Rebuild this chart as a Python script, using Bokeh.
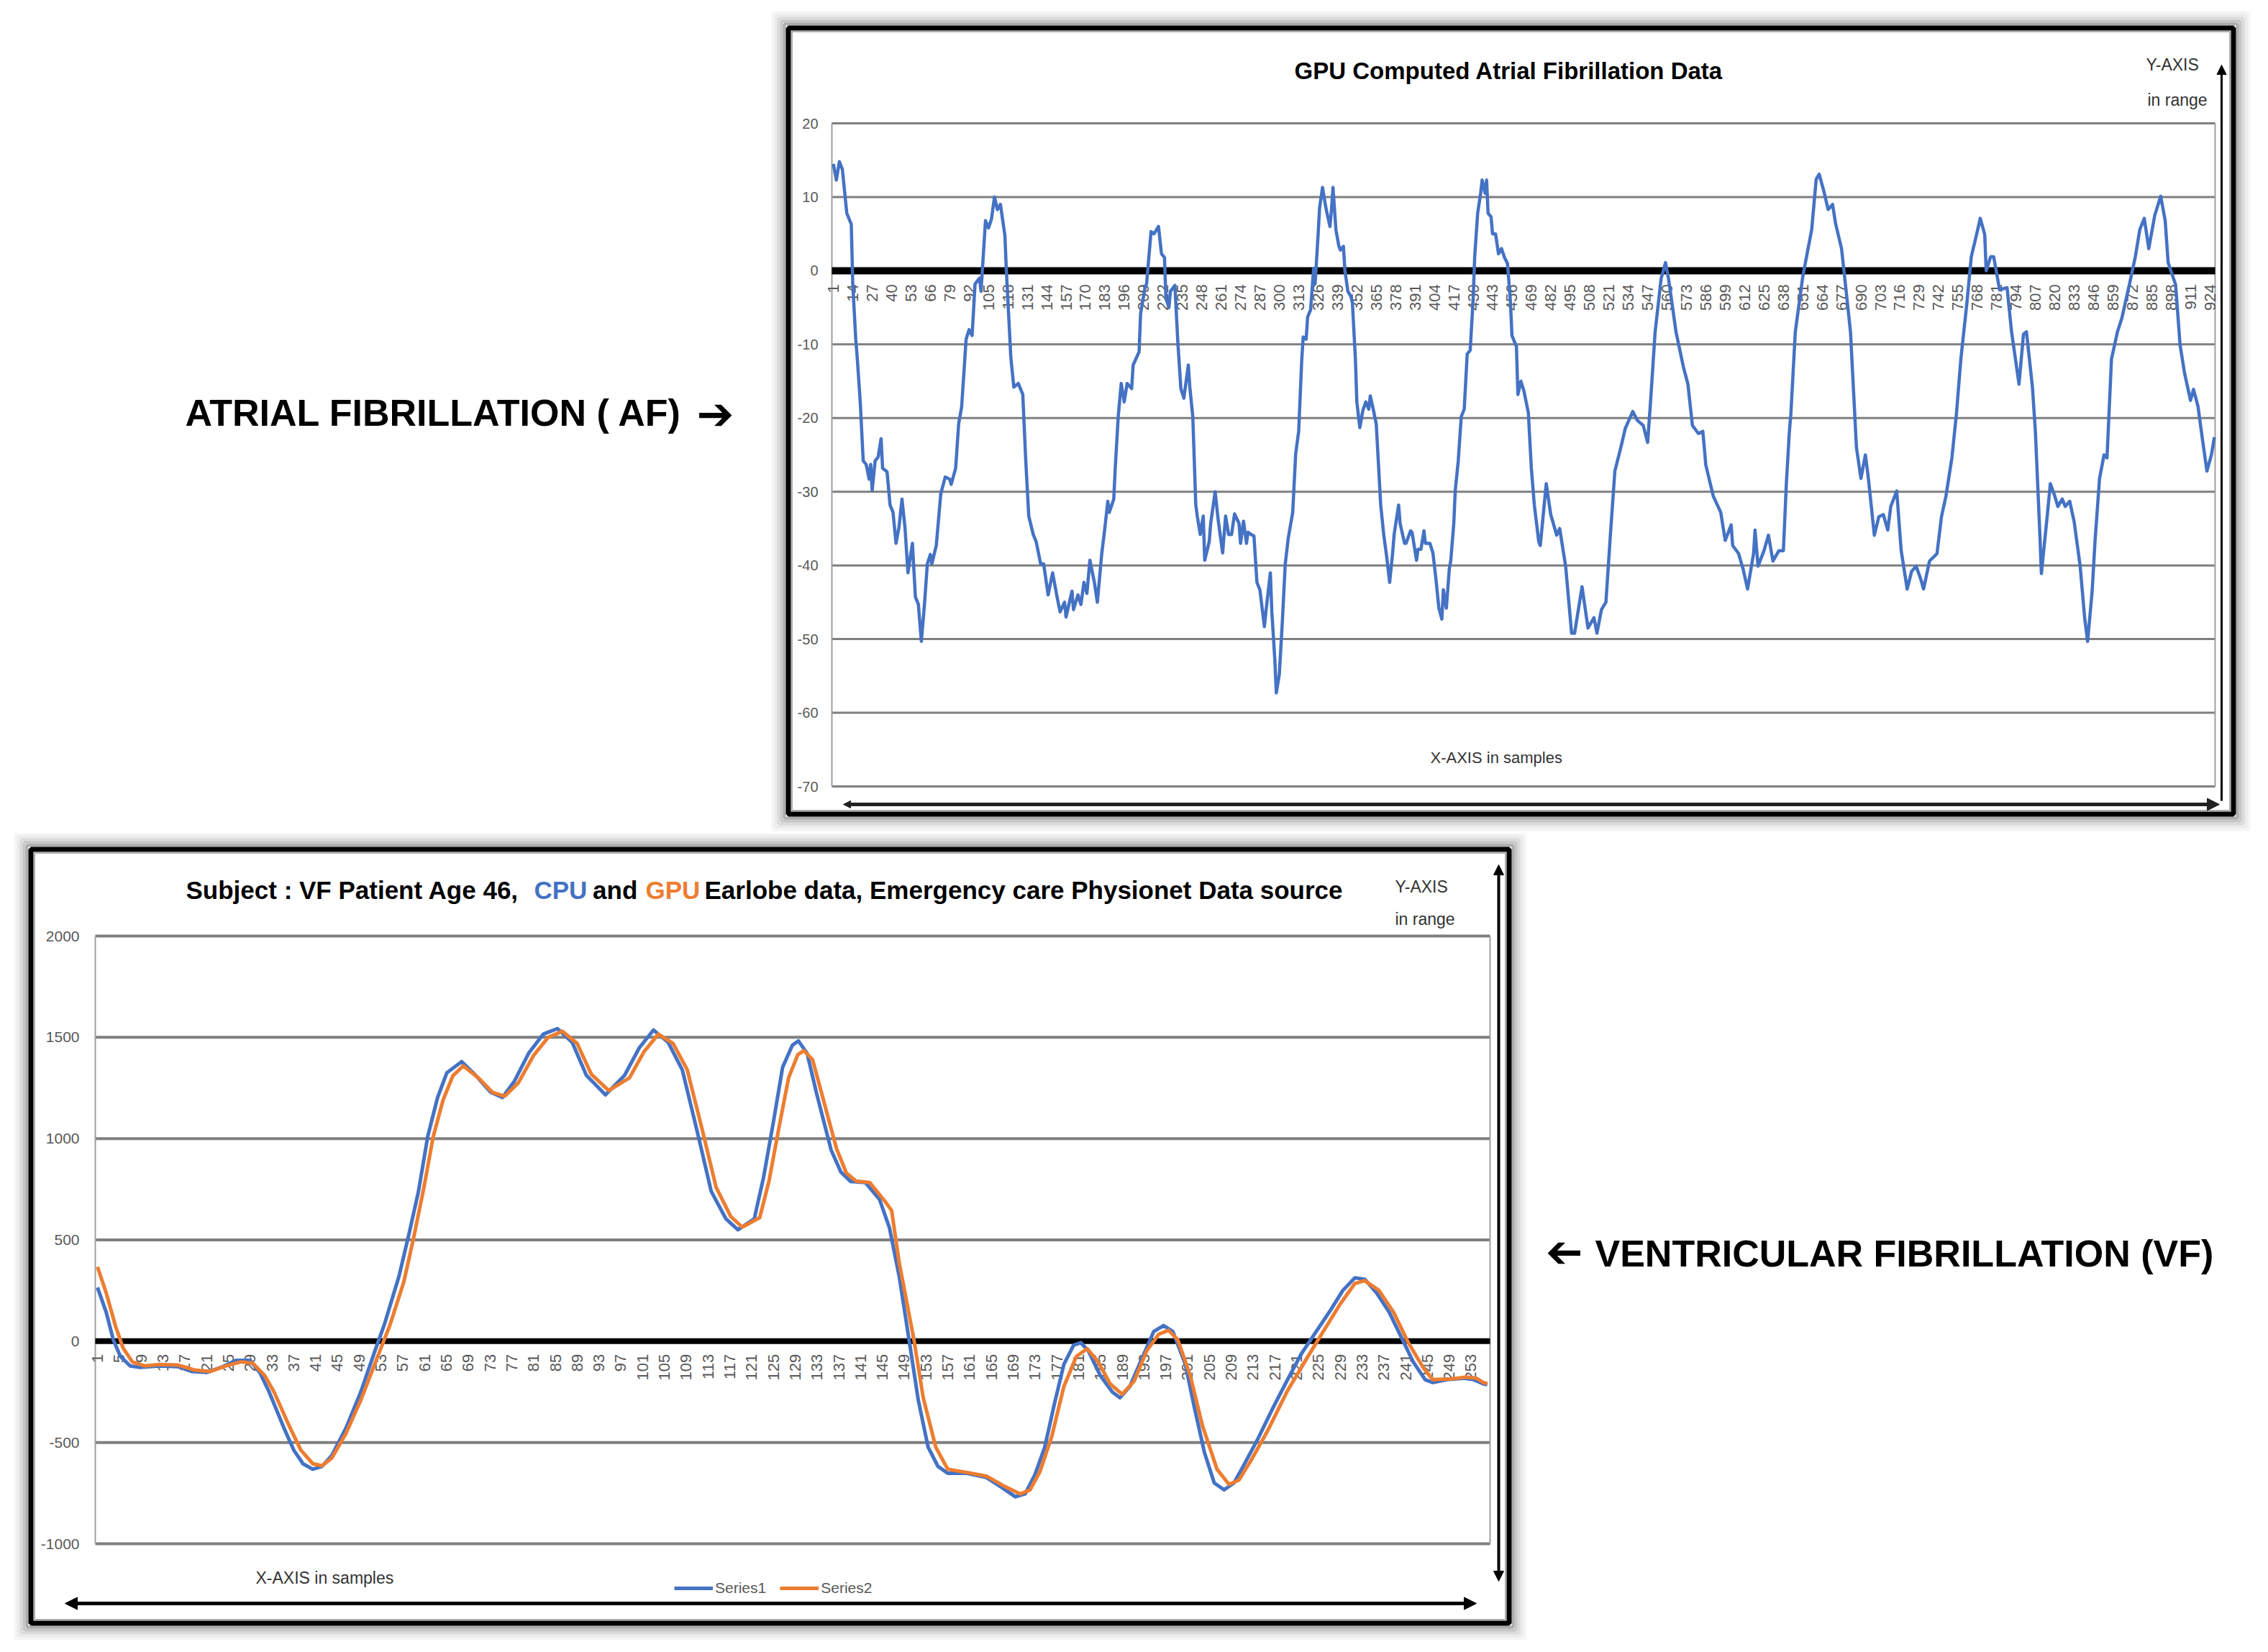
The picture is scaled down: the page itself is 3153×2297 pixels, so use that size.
import math
from bokeh.plotting import figure
from bokeh.layouts import column, row
from bokeh.models import (Range1d, Label, Arrow, NormalHead, BoxAnnotation,
                          Legend, LegendItem, ColumnDataSource)
from bokeh.core.properties import value
from bokeh.embed import file_html
from bokeh.resources import INLINE

# ---------------- data ----------------
AF_POINTS = [
    (1,14.5),(3,12.3),(5,14.8),(7,13.8),(10,7.8),(13,6.3),(14,-1.8),(16,-9.3),(17,-11.8),(19,-17.8),
    (21,-25.8),(23,-26.3),(25,-28.3),(26,-26.3),(27,-29.8),(29,-25.8),(31,-25.3),(33,-22.8),(34,-26.8),
    (37,-27.3),(39,-31.8),(41,-32.8),(43,-37),(45,-34.8),(47,-31),(49,-34.8),(51,-41),(54,-37),(56,-44.3),
    (58,-45.3),(60,-50.3),(62,-45.5),(64,-39.8),(66,-38.5),(67,-39.8),(70,-37.3),(73,-30.3),(76,-28),
    (79,-28.3),(80,-29),(83,-26.8),(85,-20.8),(87,-18.5),(90,-9.3),(92,-8),(94,-8.8),(96,-1.8),(99,-1),
    (100,-2.8),(103,6.8),(105,5.8),(107,7),(109,10),(111,8.3),(113,9),(116,4.8),(117,0),(120,-11.8),
    (122,-15.8),(125,-15.3),(128,-16.8),(130,-25.8),(132,-33.3),(135,-35.8),(137,-36.8),(140,-39.8),
    (142,-39.8),(145,-44),(148,-41),(151,-44.3),(153,-46.3),(156,-45),(157,-47),(161,-43.5),(162,-46),
    (165,-44),(167,-45.3),(169,-42.3),(171,-43.8),(173,-39.3),(176,-42.3),(178,-45),(181,-38.3),(183,-35),
    (185,-31.3),(186,-32.8),(189,-31),(190,-26.8),(192,-19.8),(194,-15.3),(196,-17.8),(198,-15.3),
    (201,-16),(202,-12.8),(206,-11),(207,-5.8),(210,-2.3),(211,-1.8),(214,5.3),(216,5),(219,6),(221,2.3),
    (223,1.8),(224,-3.8),(226,-5),(227,-2.8),(230,-2),(232,-9.8),(234,-16),(236,-17.3),(239,-12.8),
    (240,-15.8),(242,-19.8),(244,-31.8),(245,-33.3),(247,-35.8),(249,-33.3),(250,-39.3),(253,-36.8),
    (254,-34.3),(257,-30),(259,-33.8),(262,-38.3),(264,-33.3),(266,-35.8),(268,-35.8),(270,-33),
    (273,-34.3),(274,-37),(276,-34),(278,-37),(279,-35.5),(281,-35.8),(283,-36),(285,-42.3),(287,-43.3),
    (290,-48.3),(291,-46.3),(294,-41),(295,-46.3),(297,-52.8),(298,-57.3),(300,-54.8),(302,-47.8),
    (304,-39.8),(306,-36.3),(309,-32.8),(311,-24.8),(313,-21.8),(315,-12.3),(316,-9),(318,-9.3),
    (319,-6.3),(321,-5.3),(323,0.3),(324,-1.8),(326,4.8),(327,8.5),(329,11.3),(331,8.8),(332,7.8),
    (334,6),(335,8.3),(336,11.3),(338,5.5),(340,3.3),(341,2.8),(343,3.3),(344,0),(346,-2.8),(348,-3.5),
    (349,-4.3),(351,-11.8),(352,-17.8),(354,-21.3),(356,-19),(358,-17.8),(360,-18.8),(361,-17),
    (363,-18.8),(365,-20.8),(368,-31.8),(370,-35.8),(372,-38.8),(374,-42.3),(376,-38.3),(377,-35.8),
    (380,-31.8),(381,-34.3),(384,-37),(385,-37),(388,-35.3),(389,-35.5),(392,-39.3),(393,-37.8),
    (395,-37.8),(397,-35.3),(398,-37),(401,-37),(403,-38.3),(405,-41.8),(407,-45.8),(409,-47.3),
    (410,-43.3),(412,-45.8),(414,-40.5),(415,-39.3),(417,-34.3),(418,-29.8),(420,-25.8),(422,-19.8),
    (424,-18.8),(426,-11.3),(428,-10.8),(430,-3.8),(431,1.8),(433,7.8),(435,10.5),(436,12.3),(438,10.5),
    (439,12.3),(440,7.8),(442,7.3),(443,5),(445,5),(447,2.3),(449,3),(451,1.8),(453,1),(455,-4.3),
    (456,-8.8),(459,-10.3),(460,-16.8),(462,-15),(464,-16.3),(467,-19.3),(469,-26.8),(471,-31.8),
    (474,-36.8),(475,-37.3),(479,-28.9),(482,-33.1),(486,-35.9),(488,-35),(492,-40.1),(496,-49.2),
    (498,-49.2),(503,-42.9),(507,-48.5),(511,-47.1),(513,-49.2),(516,-46),(519,-45),(522,-35.9),
    (525,-27.2),(529,-24),(532,-21.4),(537,-19.1),(540,-20.3),(544,-21),(547,-23.3),(549,-17.6),
    (552,-8.3),(556,-1.1),(559,1.1),(561,-1.1),(566,-8.3),(571,-13.1),(574,-15.4),(577,-21),(581,-22.1),
    (584,-21.8),(586,-26.4),(591,-30.6),(596,-32.8),(599,-36.6),(603,-34.5),(604,-37.3),(608,-38.4),
    (611,-40.5),(614,-43.2),(618,-38.4),(619,-35.2),(621,-40.1),(625,-38),(628,-35.9),(631,-39.4),
    (635,-38),(638,-38),(640,-28.9),(642,-21.9),(643,-19.5),(646,-8.3),(651,-0.8),(657,5.6),(660,12.4),
    (662,13.1),(665,10.9),(668,8.3),(671,9),(673,6.4),(677,3),(680,-2.6),(683,-8.3),(687,-24),
    (690,-28.2),(693,-25),(695,-28.2),(699,-35.9),(702,-33.4),(705,-33.1),(708,-35.2),(710,-32),
    (714,-29.9),(717,-38),(721,-43.2),(724,-40.8),(727,-40.1),(730,-41.8),(732,-43.2),(736,-39.4),
    (741,-38.4),(744,-33.4),(747,-30.6),(751,-25.4),(754,-19.5),(757,-12),(761,-4.5),(764,1.9),
    (768,5.3),(770,7.1),(773,4.9),(774,0),(777,1.9),(779,1.9),(783,-2.6),(788,-2.3),(791,-8.3),
    (796,-15.4),(799,-8.6),(801,-8.3),(805,-15.8),(807,-21.9),(810,-35.9),(811,-41.1),(815,-33.1),
    (817,-28.9),(820,-30.6),(822,-32),(825,-31),(827,-32),(830,-31.3),(833,-34.1),(837,-40.1),
    (840,-47.1),(842,-50.3),(845,-43.6),(847,-36.6),(850,-28.2),(853,-25),(855,-25.4),(858,-12),
    (862,-8.3),(865,-6.4),(870,-1.9),(874,1.9),(877,5.6),(880,7.1),(883,3),(887,7.5),(891,10.1),
    (894,6.8),(896,1.1),(901,-1.9),(904,-10.1),(907,-13.9),(911,-17.6),(913,-16.1),(916,-18.4),
    (919,-22.9),(922,-27.2),(925,-25),(927,-22.6),
]
AF_SAMPLE = [p[0] for p in AF_POINTS]
AF_VALUE = [p[1] for p in AF_POINTS]
AF_X_TICKS = list(range(1, 925, 13))
AF_Y_TICKS = [-70, -60, -50, -40, -30, -20, -10, 0, 10, 20]
AF_X_EXTENT = (0, 927.5)

VF_CPU_POINTS = [
    (1,265),(2.6,143),(3.9,7),(5.2,-75),(7,-122),(8.8,-129),(12.3,-122),(15.8,-126),(18.4,-150),
    (21.1,-154),(23.7,-129),(26.4,-95),(29,-95),(30.8,-156),(32.5,-251),(35.2,-428),(37,-537),
    (38.7,-605),(40.5,-632),(42.2,-618),(44,-564),(46.6,-428),(49.3,-251),(51.9,-48),(53.7,88),
    (56.3,319),(58.1,523),(59.9,740),(61.6,1012),(63.4,1203),(65.1,1325),(67.8,1380),(70.4,1312),
    (73.1,1230),(75.3,1203),(77.5,1284),(80.1,1421),(82.8,1516),(85.4,1543),(88.1,1475),(90.7,1312),
    (94.2,1216),(97.7,1312),(100.4,1448),(103,1536),(105.7,1475),(108.3,1339),(111,1039),(113.6,740),
    (116.3,604),(118.5,550),(121.5,604),(123.2,808),(125,1080),(126.7,1352),(128.5,1461),(129.6,1482),
    (131.2,1421),(133,1216),(135.6,944),(137.4,835),(139.2,788),(141.9,783),(144.5,699),(146.3,560),
    (148.1,319),(149.9,7),(151.6,-292),(153.4,-523),(155.2,-618),(157,-652),(160.5,-652),(164.1,-673),
    (166.8,-720),(169.4,-768),(171.2,-754),(173,-659),(174.8,-523),(176.6,-306),(178.3,-115),
    (180.1,-20),(181.4,-7),(182.8,-48),(185,-170),(187.2,-251),(188.6,-279),(190.4,-224),(192.6,-88),
    (194.8,48),(196.6,77),(198.3,48),(200.6,-115),(202.3,-333),(204.1,-550),(205.9,-700),(207.7,-734),
    (209.5,-700),(211.2,-618),(213.9,-482),(216.6,-333),(219.2,-197),(221.9,-61),(224.6,48),
    (227.3,156),(229.5,251),(231.7,313),(233.5,306),(235.7,238),(238,143),(240.2,20),(242.4,-102),
    (244.6,-190),(246,-204),(248.6,-190),(251.7,-183),(253.5,-190),(255.3,-211),(256,-215),
]
VF_GPU_POINTS = [
    (1,367),(2.6,238),(4.3,75),(5.7,-34),(7.4,-102),(9.6,-122),(12.3,-115),(15.8,-118),(18.9,-143),
    (21.6,-150),(24.6,-122),(27.3,-102),(29.5,-109),(31.7,-170),(33.4,-251),(36.1,-414),(38.3,-537),
    (40.5,-605),(42.2,-615),(44,-577),(46.6,-455),(49.3,-292),(52.8,-48),(54.6,75),(57.2,292),
    (59,510),(60.9,760),(62.6,1010),(64.4,1190),(66.2,1310),(68.1,1359),(70.9,1300),(73.5,1228),
    (75.7,1209),(78.2,1275),(81,1410),(83.7,1500),(86.3,1530),(89,1470),(91.6,1318),(94.8,1237),
    (98.6,1300),(101.3,1430),(103.9,1516),(106.6,1470),(109.2,1340),(111.9,1050),(114.5,760),
    (117.2,615),(119.3,563),(122.5,610),(124.2,790),(126,1050),(127.8,1300),(129.5,1415),(130.6,1434),
    (132.2,1390),(134,1210),(136.6,950),(138.4,830),(140.2,790),(142.7,783),(145.5,690),(146.7,645),
    (148.1,387),(150.8,7),(152.5,-279),(154.8,-523),(157,-632),(160.5,-648),(164.1,-666),(167.2,-713),
    (170.3,-754),(172.1,-734),(173.9,-645),(176.1,-469),(178.3,-224),(180.6,-75),(182.6,-37),
    (184.6,-102),(186.8,-211),(189,-262),(191.2,-197),(193.5,-48),(195.7,34),(197.5,54),(199.2,7),
    (201.5,-170),(203.7,-414),(206.4,-632),(208.6,-707),(210.4,-686),(212.6,-591),(215.7,-442),
    (219.2,-251),(222.8,-88),(225.9,48),(229,183),(231.7,285),(233.5,299),(236.1,251),(238.8,143),
    (241.5,-7),(244.2,-129),(246,-190),(249.5,-186),(252.2,-177),(254,-183),(255.3,-204),(256,-210),
]
VF_CPU_SAMPLE = [p[0] for p in VF_CPU_POINTS]
VF_CPU_VALUE = [p[1] for p in VF_CPU_POINTS]
VF_GPU_SAMPLE = [p[0] for p in VF_GPU_POINTS]
VF_GPU_VALUE = [p[1] for p in VF_GPU_POINTS]
VF_X_TICKS = list(range(1, 254, 4))
VF_Y_TICKS = [-1000, -500, 0, 500, 1000, 1500, 2000]
VF_X_EXTENT = (0.6, 256.5)
VF_SERIES = ["Series1", "Series2"]

# ---------------- styles ----------------
FONT = "'Liberation Sans', Arial, sans-serif"
ARROWFONT = "'DejaVu Sans', sans-serif"
BLUE = "#4472C4"
ORANGE = "#ED7D31"
GRID = "#7f7f7f"
EDGE = "#a0a0a0"
TICK = "#595959"
DARK = "#333333"


class Panel:
    """A figure whose frame is the whole canvas; the data area is a sub-box of it."""

    def __init__(self, canvas, plot=None, xdat=None, ydat=None):
        cl, ct, cw, ch = canvas
        self.cl, self.ct, self.cw, self.ch = cl, ct, cw, ch
        if plot is None:
            xr, yr = Range1d(0, cw), Range1d(0, ch)
        else:
            pl, pt, pr, pb = plot
            kx = (xdat[1] - xdat[0]) / (pr - pl)
            ky = (ydat[1] - ydat[0]) / (pb - pt)
            xr = Range1d(xdat[0] - (pl - cl) * kx, xdat[1] + (cl + cw - pr) * kx)
            yr = Range1d(ydat[0] - (ct + ch - pb) * ky, ydat[1] + (pt - ct) * ky)
        p = figure(width=cw, height=ch, x_range=xr, y_range=yr, title=None, min_border=0,
                   output_backend="svg", toolbar_location=None)
        p.axis.visible = False
        p.grid.visible = False
        p.outline_line_color = None
        self.p = p

    def sx(self, px):
        return px - self.cl

    def sy(self, py):
        return self.ct + self.ch - py

    def label(self, px, py, text, size, color="black", bold=False, font=FONT, align="left", angle=0.0):
        self.p.add_layout(Label(x=self.sx(px), y=self.sy(py), x_units="screen", y_units="screen",
                                text=text, text_font=font, text_font_size=f"{size}px",
                                text_font_style="bold" if bold else "normal", text_color=color,
                                text_align=align, text_baseline="middle", angle=angle))

    def framebox(self, left, top, right, bottom):
        kw = dict(left_units="screen", right_units="screen", top_units="screen",
                  bottom_units="screen", fill_alpha=0, fill_color=None)
        L, R, T, B = self.sx(left), self.sx(right), self.sy(top), self.sy(bottom)
        for i, a in enumerate([0.32, 0.22, 0.14, 0.08, 0.04]):
            d = 3.5 + 4 * i + 2
            self.p.add_layout(BoxAnnotation(left=L - d, right=R + d, bottom=B - d, top=T + d,
                                            line_color="black", line_alpha=a, line_width=4, **kw))
        self.p.add_layout(BoxAnnotation(left=L, right=R, bottom=B, top=T,
                                        line_color="black", line_alpha=1.0, line_width=7, **kw))
        # thin grey inner rule just inside the black border
        self.p.add_layout(BoxAnnotation(left=L + 5, right=R - 5, bottom=B + 5, top=T - 5,
                                        line_color="#9a9a9a", line_alpha=0.8, line_width=2, **kw))

    def arrow(self, x0, y0, x1, y1, width, size_end, size_start=None, color="black"):
        def head(s):
            return NormalHead(size=s, fill_color=color, line_color=color, line_width=1)
        self.p.add_layout(Arrow(x_start=self.sx(x0), y_start=self.sy(y0),
                                x_end=self.sx(x1), y_end=self.sy(y1),
                                start_units="screen", end_units="screen",
                                line_color=color, line_width=width, end=head(size_end),
                                start=head(size_start) if size_start else None))


def draw_axes(p, xext, yticks, xticks, grid_w, zero_w, ylab_size, ylab_off, xlab_size, xlab_off):
    x0, x1 = xext
    n = len(yticks)
    # horizontal grid lines across the plot area
    p.segment(x0=[x0] * n, y0=yticks, x1=[x1] * n, y1=yticks, line_color=GRID, line_width=grid_w)
    # plot-area side edges
    p.segment(x0=[x0, x1], y0=[min(yticks)] * 2, x1=[x0, x1], y1=[max(yticks)] * 2,
              line_color=EDGE, line_width=2)
    # horizontal (category) axis line at zero
    p.segment(x0=[x0], y0=[0], x1=[x1], y1=[0], line_color="black", line_width=zero_w)
    # value-axis labels
    p.text(x=[x0] * n, y=yticks, text=[str(t) for t in yticks], x_offset=-ylab_off,
           text_align="right", text_baseline="middle", text_font=value(FONT),
           text_font_size=f"{ylab_size}px", text_color=TICK)
    # category labels, vertical, hanging below the zero line
    src = ColumnDataSource(dict(x=xticks, y=[0] * len(xticks), t=[str(t) for t in xticks]))
    p.text(x="x", y="y", text="t", source=src, angle=math.pi / 2, text_align="right",
           text_baseline="middle", y_offset=xlab_off, text_font=value(FONT),
           text_font_size=f"{xlab_size}px", text_color=TICK)


# ---------------- AF chart ----------------
AF = Panel((1062, 0, 2083, 1158), (1156, 171, 3079, 1093), AF_X_EXTENT, (-70, 20))
draw_axes(AF.p, AF_X_EXTENT, AF_Y_TICKS, AF_X_TICKS, 3, 10, 20, 19, 22, 19)
AF.p.line(AF_SAMPLE, AF_VALUE, line_color=BLUE, line_width=4.5, line_join="round")
AF.framebox(1095.5, 38.5, 3104.5, 1131.5)
AF.label(2097, 97.5, "GPU Computed Atrial Fibrillation Data", 33, bold=True, align="center")
AF.label(2983, 89, "Y-AXIS", 23, color=DARK)
AF.label(2985, 138, "in range", 23, color=DARK)
AF.label(1988, 1053, "X-AXIS in samples", 22, color=DARK)
AF.arrow(3088, 1113, 3088, 90, 3, 13)
AF.arrow(1172, 1118, 3085, 1118, 5, 17, 10, color="#222222")

# ---------------- VF chart ----------------
VF = Panel((0, 1158, 2125, 1131), (132, 1301, 2071, 2146), VF_X_EXTENT, (-1000, 2000))
draw_axes(VF.p, VF_X_EXTENT, VF_Y_TICKS, VF_X_TICKS, 4, 8, 21, 22, 22, 18)
r_cpu = VF.p.line(VF_CPU_SAMPLE, VF_CPU_VALUE, line_color=BLUE, line_width=5, line_join="round")
r_gpu = VF.p.line(VF_GPU_SAMPLE, VF_GPU_VALUE, line_color=ORANGE, line_width=5, line_join="round")
VF.framebox(42.5, 1180.5, 2097.5, 2256.5)
TY = 1236.5
VF.label(258, TY, "Subject : VF Patient Age 46,", 35, bold=True)
VF.label(742, TY, "CPU", 35, color=BLUE, bold=True)
VF.label(823.6, TY, "and", 35, bold=True)
VF.label(897, TY, "GPU", 35, color=ORANGE, bold=True)
VF.label(979, TY, "Earlobe data, Emergency care Physionet Data source", 35, bold=True)
VF.label(1939, 1232, "Y-AXIS", 23, color=DARK)
VF.label(1939, 1277, "in range", 23, color=DARK)
VF.label(355, 2193, "X-AXIS in samples", 23, color=DARK)
VF.arrow(2083, 2198, 2083, 1202, 4, 14, 14)
VF.arrow(90, 2229, 2052, 2229, 5, 17, 17)
legend = Legend(items=[LegendItem(label=VF_SERIES[0], renderers=[r_cpu]),
                       LegendItem(label=VF_SERIES[1], renderers=[r_gpu])],
                orientation="horizontal", location=(VF.sx(937), VF.sy(2220)),
                glyph_width=54, glyph_height=20, label_standoff=3, spacing=19, padding=0,
                margin=0, border_line_alpha=0, background_fill_alpha=0, label_text_font=FONT,
                label_text_font_size="21px", label_text_color=TICK, label_height=20)
VF.p.add_layout(legend)

# ---------------- side texts ----------------
LEFT = Panel((0, 0, 1062, 1158))
LEFT.label(257, 573, "ATRIAL FIBRILLATION ( AF)", 52, bold=True)
LEFT.label(968, 575, "\u2794", 62, bold=True, font=ARROWFONT)

RIGHT = Panel((2125, 1158, 1020, 1131))
RIGHT.label(2200, 1744, "\u2794", 62, bold=True, font=ARROWFONT, align="left", angle=math.pi)
RIGHT.label(2217, 1742, "VENTRICULAR FIBRILLATION (VF)", 52, bold=True)

layout = column(row(LEFT.p, AF.p), row(VF.p, RIGHT.p))
open("out.html", "w").write(file_html(layout, INLINE))
